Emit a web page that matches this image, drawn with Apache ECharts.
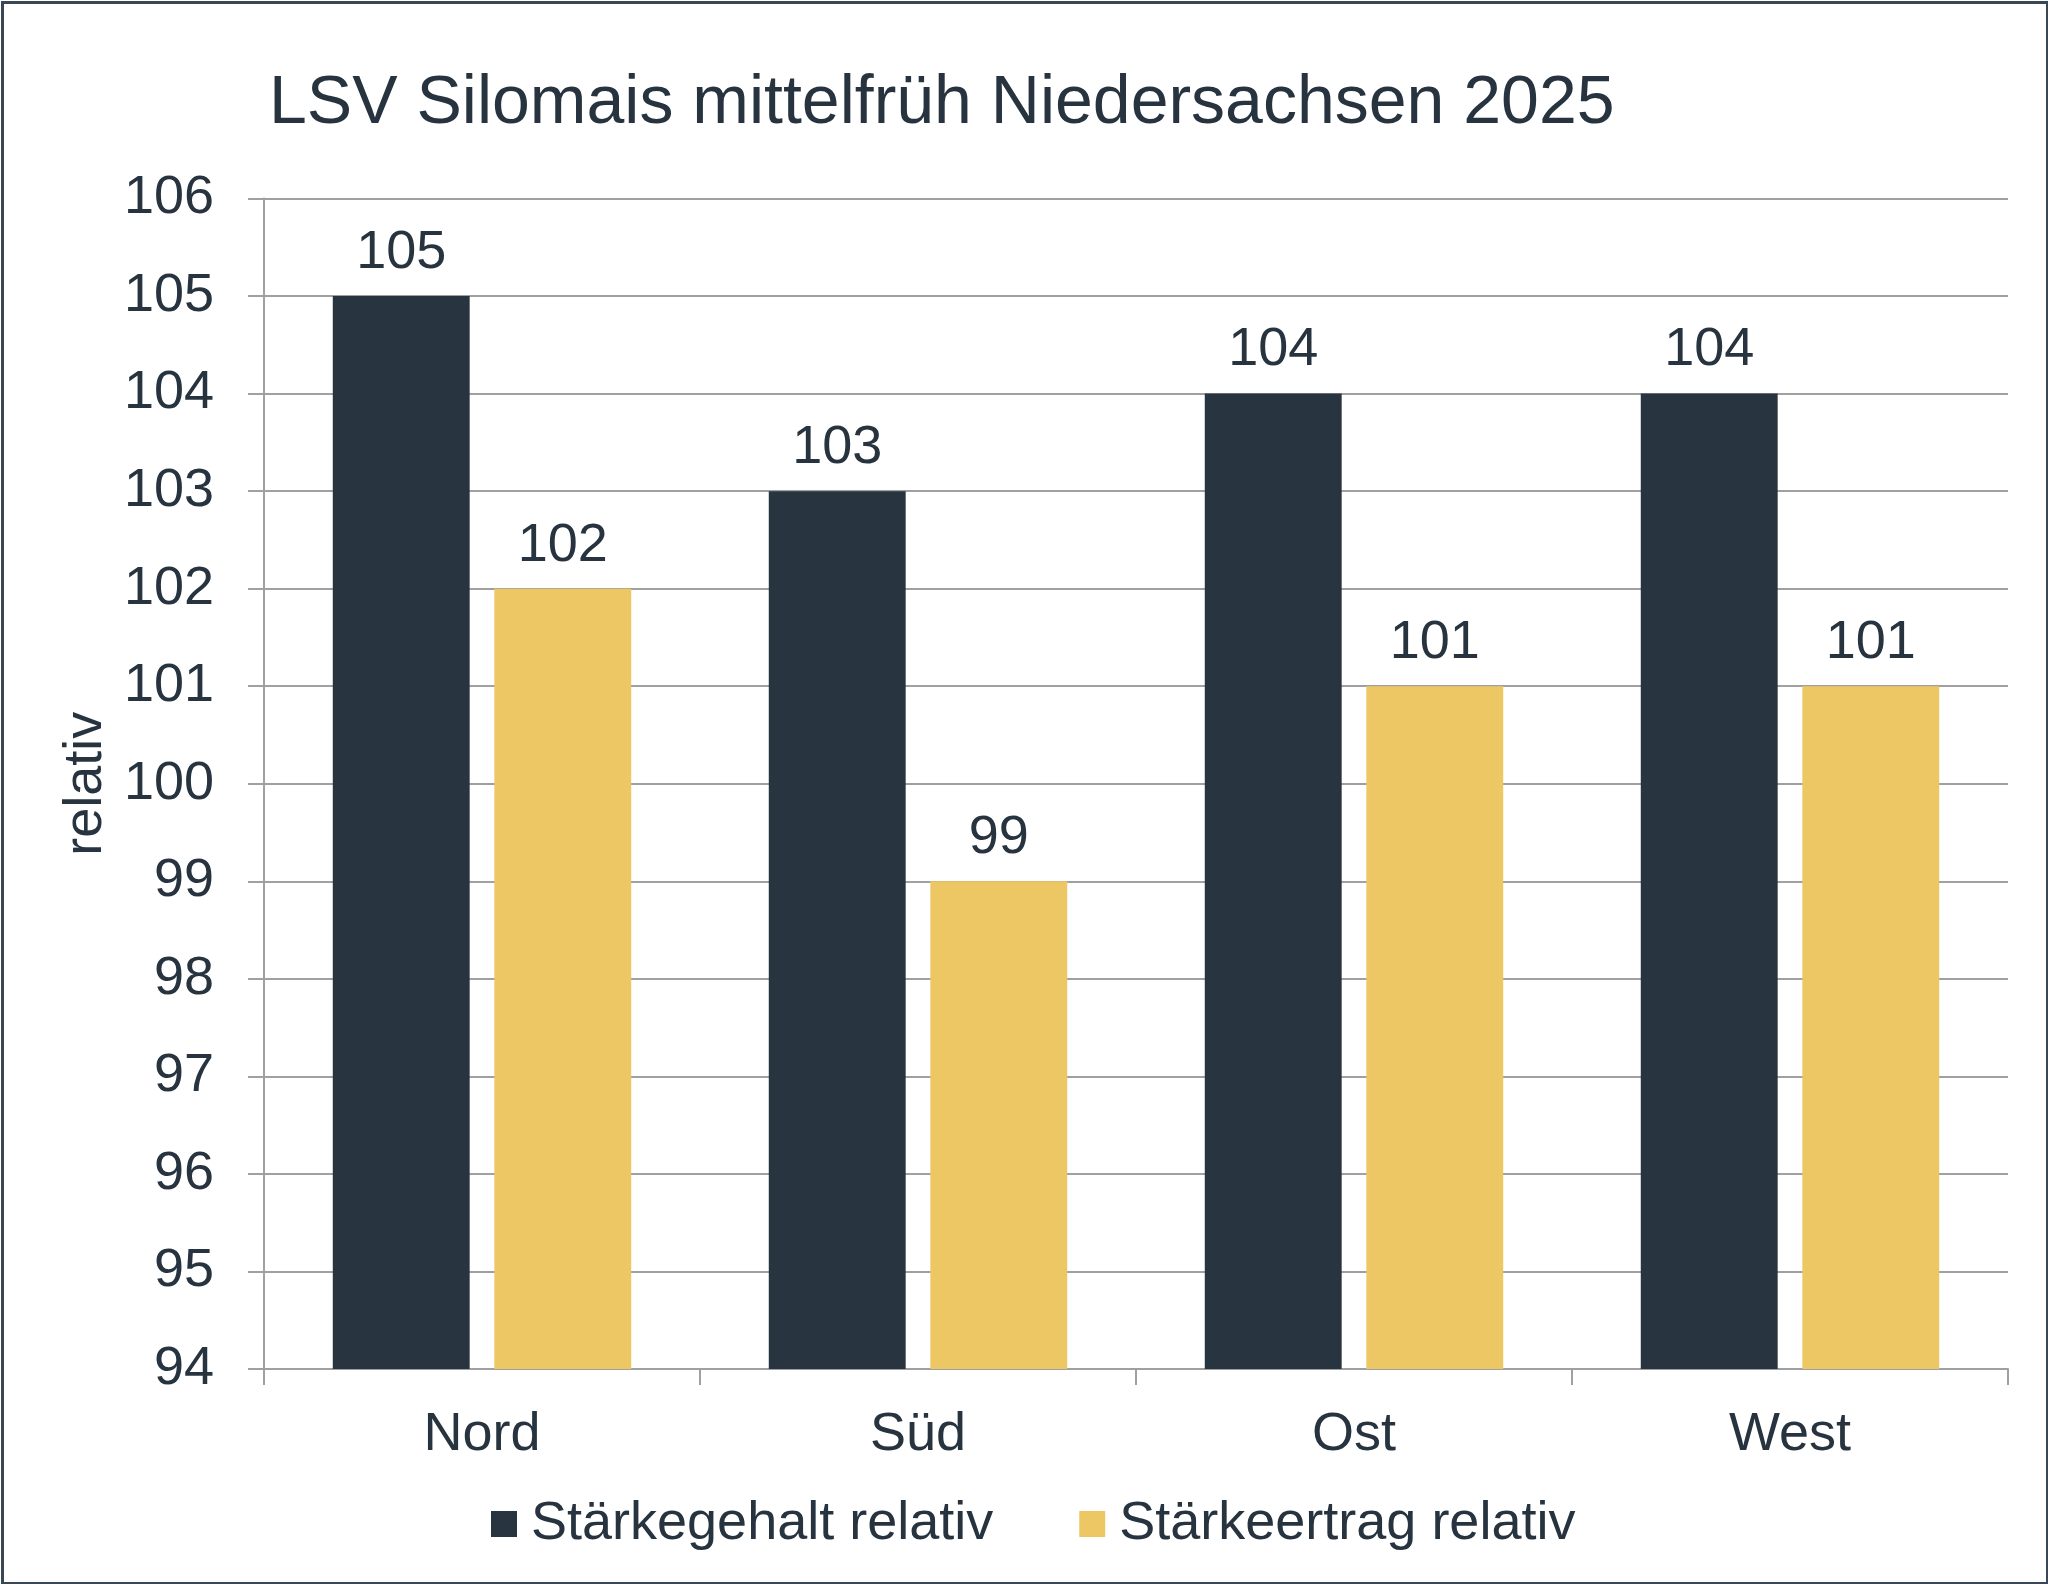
<!DOCTYPE html>
<html>
<head>
<meta charset="utf-8">
<script src="https://cdn.jsdelivr.net/npm/echarts@6/dist/echarts.min.js"></script>
<style>
  html, body { margin: 0; padding: 0; background: #fff; }
  #chart { width: 2048px; height: 1584px; }
</style>
</head>
<body>
<div id="chart"></div>
<script>
const titleText = 'LSV Silomais mittelfrüh Niedersachsen 2025';
const categories = ['Nord', 'Süd', 'Ost', 'West'];
const seriesNames = ['Stärkegehalt relativ', 'Stärkeertrag relativ'];
const staerkegehalt = [105, 103, 104, 104];
const staerkeertrag = [102, 99, 101, 101];
const yMin = 94, yMax = 106, yInterval = 1;
const yAxisName = 'relativ';

const textColor = '#27343f';
const gridColor = '#a0a0a0';
const fontFamily = 'Arial, "Liberation Sans", sans-serif';

const chart = echarts.init(document.getElementById('chart'), null, { renderer: 'canvas' });
chart.setOption({
  animation: false,
  backgroundColor: '#ffffff',
  textStyle: { fontFamily: fontFamily, color: textColor },
  graphic: [{
    type: 'rect',
    left: 0, top: 0,
    shape: { x: 1.5, y: 1.5, width: 2045, height: 1581 },
    style: { fill: 'none', stroke: '#3a4754', lineWidth: 3 },
    silent: true, z: 100
  }],
  title: {
    text: titleText,
    left: 264,
    top: 65,
    textStyle: { fontSize: 68, fontWeight: 'normal', color: textColor, fontFamily: fontFamily }
  },
  legend: {
    data: seriesNames,
    left: 486,
    top: 1492,
    icon: 'rect',
    itemWidth: 26,
    itemHeight: 26,
    itemGap: 86,
    textStyle: { fontSize: 54, color: textColor, fontFamily: fontFamily, padding: [0, 0, 0, 9] }
  },
  grid: { left: 264, right: 40, top: 198.5, bottom: 215, containLabel: false },
  xAxis: {
    type: 'category',
    data: categories,
    axisLine: { show: true, lineStyle: { color: gridColor, width: 2 } },
    axisTick: { show: true, length: 16, lineStyle: { color: gridColor, width: 2 } },
    axisLabel: { fontSize: 54, color: textColor, margin: 39, fontFamily: fontFamily }
  },
  yAxis: {
    type: 'value',
    min: yMin, max: yMax, interval: yInterval,
    name: yAxisName,
    nameLocation: 'middle',
    nameGap: 150,
    nameRotate: 90,
    nameTextStyle: { fontSize: 54, color: textColor, fontFamily: fontFamily },
    axisLine: { show: true, lineStyle: { color: gridColor, width: 2 } },
    axisTick: { show: true, length: 16, lineStyle: { color: gridColor, width: 2 } },
    axisLabel: { fontSize: 54, color: textColor, margin: 50, fontFamily: fontFamily },
    splitLine: { show: true, lineStyle: { color: gridColor, width: 2 } }
  },
  series: [
    {
      name: seriesNames[0], type: 'bar', data: staerkegehalt,
      barWidth: '31.4%', barGap: '18%',
      itemStyle: { color: '#283541' },
      label: { show: true, position: 'top', distance: 16, fontSize: 54, color: textColor, fontFamily: fontFamily }
    },
    {
      name: seriesNames[1], type: 'bar', data: staerkeertrag,
      barWidth: '31.4%', barGap: '18%',
      itemStyle: { color: '#ecc764' },
      label: { show: true, position: 'top', distance: 16, fontSize: 54, color: textColor, fontFamily: fontFamily }
    }
  ]
});
</script>
</body>
</html>
